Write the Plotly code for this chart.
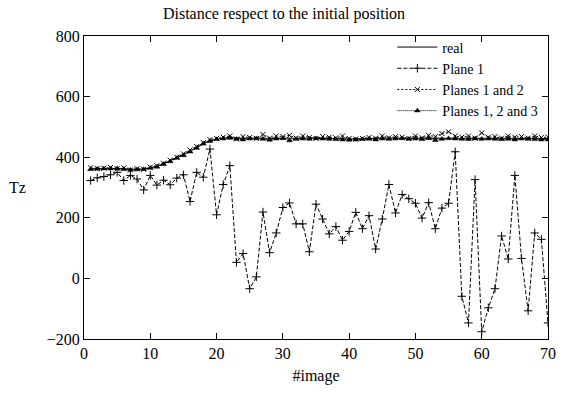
import plotly.graph_objects as go

image = list(range(1, 71))

real = [362, 362, 363, 364, 364, 362, 360, 360, 361, 365,
        370, 378, 388, 398, 408, 420, 432, 445, 455, 460,
        463, 465, 463, 462, 463, 464, 463, 462, 463, 464,
        463, 462, 463, 463, 464, 463, 463, 462, 461, 460,
        460, 461, 462, 462, 463, 463, 463, 464, 464, 463,
        463, 464, 463, 463, 464, 464, 463, 463, 464, 463,
        463, 464, 463, 462, 463, 463, 463, 462, 462, 461]

plane1 = [323, 332, 336, 342, 350, 323, 340, 328, 292, 340,
          308, 324, 309, 331, 342, 254, 350, 334, 427, 210,
          310, 372, 53, 82, -34, 5, 219, 85, 150, 234,
          249, 180, 180, 88, 245, 196, 147, 171, 126, 155,
          218, 164, 207, 97, 196, 310, 216, 277, 263, 248,
          199, 250, 164, 232, 248, 418, -59, -147, 326, -176,
          -97, -34, 140, 64, 340, 66, -107, 150, 129, -147]

planes12 = [365, 363, 364, 366, 362, 365, 358, 362, 360, 367,
            372, 380, 390, 400, 411, 424, 435, 448, 458, 462,
            466, 470, 460, 468, 465, 462, 475, 463, 470, 468,
            472, 463, 470, 465, 462, 468, 466, 464, 470, 462,
            460, 462, 465, 463, 470, 464, 468, 466, 462, 470,
            464, 472, 468, 478, 484, 470, 466, 470, 463, 480,
            466, 468, 463, 470, 466, 468, 463, 470, 465, 466]

planes123 = [360, 361, 362, 362, 363, 360, 358, 359, 360, 364,
             368, 377, 386, 397, 406, 418, 430, 444, 453, 459,
             461, 463, 460, 458, 461, 462, 460, 457, 461, 462,
             455, 460, 461, 460, 462, 461, 460, 459, 458, 457,
             458, 459, 460, 458, 461, 460, 461, 462, 460, 461,
             459, 462, 456, 460, 462, 461, 460, 459, 461, 460,
             461, 460, 459, 460, 458, 461, 460, 459, 458, 458]

FONT = "'Liberation Serif', 'Times New Roman', Times, serif"

fig = go.Figure()
fig.add_trace(go.Scatter(
    x=image, y=real, name="real", mode="lines",
    line=dict(color="black", width=1)))
fig.add_trace(go.Scatter(
    x=image, y=plane1, name="Plane 1", mode="lines+markers",
    line=dict(color="black", width=1, dash="4px,2px"),
    marker=dict(symbol="cross-thin", size=6, color="black",
                line=dict(color="black", width=1))))
fig.add_trace(go.Scatter(
    x=image, y=planes12, name="Planes 1 and 2", mode="lines+markers",
    line=dict(color="black", width=1, dash="2px,2px"),
    marker=dict(symbol="x-thin", size=5, color="black",
                line=dict(color="black", width=1))))
fig.add_trace(go.Scatter(
    x=image, y=planes123, name="Planes 1, 2 and 3", mode="lines+markers",
    line=dict(color="black", width=1, dash="1px,1px"),
    marker=dict(symbol="triangle-up", size=5, color="black",
                line=dict(color="black", width=0.5))))

axis_common = dict(
    showgrid=False, zeroline=False, showline=True, linecolor="black",
    linewidth=1, mirror="allticks", ticks="inside", ticklen=6,
    tickcolor="black", tickfont=dict(family=FONT, size=16, color="black"))

fig.update_layout(
    width=568, height=393,
    margin=dict(l=84, r=16, t=36, b=52),
    paper_bgcolor="white", plot_bgcolor="white",
    font=dict(family=FONT, size=16, color="black"),
    title=dict(text="Distance respect to the initial position",
               x=0.5, xanchor="center", y=0.965, yanchor="middle",
               font=dict(family=FONT, size=16, color="black")),
    xaxis=dict(range=[0, 70], dtick=10, tick0=0,
               title=dict(text="#image", standoff=8,
                          font=dict(family=FONT, size=16, color="black")),
               **axis_common),
    yaxis=dict(range=[-200, 800], dtick=200, tick0=0, **axis_common),
    legend=dict(x=0.99, xanchor="right", y=1.015, yanchor="top",
                bgcolor="rgba(255,255,255,0)", borderwidth=0,
                font=dict(family=FONT, size=14, color="black"),
                itemwidth=40, tracegroupgap=0),
    showlegend=True,
    annotations=[dict(text="Tz", xref="paper", yref="paper", x=0, y=0.5,
                      xanchor="right", yanchor="middle", xshift=-56,
                      showarrow=False,
                      font=dict(family=FONT, size=16, color="black"))],
)

fig.write_html("out.html")
